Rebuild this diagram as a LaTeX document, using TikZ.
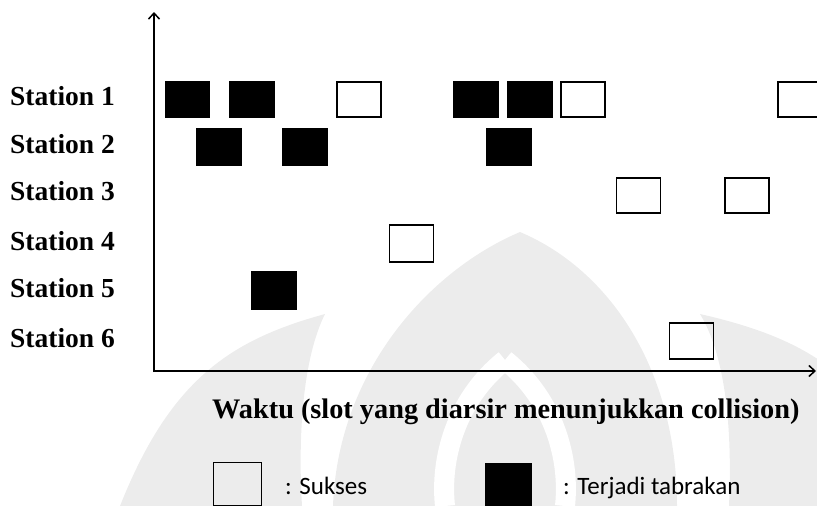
\documentclass[tikz,border=0pt]{standalone}
\usepackage{fontspec}
\setmainfont{Liberation Serif}
\newfontfamily\legfont{Carlito}
\usetikzlibrary{arrows.meta}
\begin{document}
\begin{tikzpicture}[x=1pt,y=-1pt,
  slotbox/.style={draw=black,line width=1.6pt,minimum width=44pt,minimum height=35pt,inner sep=0pt,outer sep=0pt},
  okbox/.style={slotbox},
  colbox/.style={slotbox,fill=black},
  stlabel/.style={anchor=base west,inner sep=0pt,font=\fontsize{27.5}{30}\selectfont\bfseries},
  legtext/.style={anchor=base west,inner sep=0pt,font=\legfont\fontsize{25}{28}\selectfont},
  axis/.style={line width=1.8pt,-{Straight Barb[length=6pt,width=11pt,line width=1.5pt]}},
  wm/.style={fill=gray!15,draw=none}]
\useasboundingbox (0,0) rectangle (817,506);
% watermark
\fill[wm] (120,506) .. controls (170,380) and (230,340) .. (325,314) .. controls (302,360) and (298,440) .. (302,506) -- cycle;
\fill[wm] (924,506) .. controls (874,380) and (814,340) .. (700,314) .. controls (728,360) and (732,440) .. (729,506) -- cycle;
\fill[wm] (520,232) .. controls (430,270) and (338,370) .. (333,506) -- (677,506) .. controls (677,370) and (610,270) .. (520,232) -- cycle;
\draw[white,line width=20pt] (505,360) .. controls (455,400) and (440,460) .. (445,506);
\draw[white,line width=20pt] (505,360) .. controls (555,400) and (570,460) .. (565,506);
% axes
\coordinate (O) at (154,372);
\coordinate (ytop) at (154,12);
\coordinate (xend) at (816,371);
\draw[axis] (O) -- (ytop);
\draw[axis] (154,371) -- (xend);
% labels
\node[stlabel] (st1) at (10,105) {Station 1};
\node[stlabel] (st2) at (10,153) {Station 2};
\node[stlabel] (st3) at (10,200) {Station 3};
\node[stlabel] (st4) at (10,250) {Station 4};
\node[stlabel] (st5) at (10,297) {Station 5};
\node[stlabel] (st6) at (10,347) {Station 6};
% station 1
\node[colbox] (a1) at (187.5,99.5) {};
\node[colbox] (a2) at (252,99.5) {};
\node[okbox] (a3) at (359,99.5) {};
\node[colbox] (a4) at (476,99.5) {};
\node[colbox] (a5) at (530,99.5) {};
\node[okbox] (a6) at (583,99.5) {};
\node[okbox] (a7) at (800,99.5) {};
% station 2
\node[colbox,minimum height=37pt] (b1) at (219,147) {};
\node[colbox,minimum height=37pt] (b2) at (305,147) {};
\node[colbox,minimum height=37pt] (b3) at (509,147) {};
% station 3
\node[okbox] (c1) at (638.5,195.5) {};
\node[okbox] (c2) at (747,195.5) {};
% station 4
\node[okbox,minimum height=37pt] (d1) at (411.5,243.5) {};
% station 5
\node[colbox,minimum height=37pt] (e1) at (274,290.5) {};
% station 6
\node[okbox,minimum height=36pt] (f1) at (691.5,341) {};
% title
\node[anchor=base west,inner sep=0pt,font=\fontsize{28.3}{30}\selectfont\bfseries] (title) at (212,418) {Waktu (slot yang diarsir menunjukkan collision)};
% legend
\node[okbox,minimum width=48pt,minimum height=43pt] (legok) at (237.5,484) {};
\node[legtext] (legoktxt) at (285,494) {: Sukses};
\node[colbox,minimum width=46pt,minimum height=43pt] (legcol) at (508.5,485) {};
\node[legtext] (legcoltxt) at (563,494) {: Terjadi tabrakan};
\end{tikzpicture}
\end{document}
